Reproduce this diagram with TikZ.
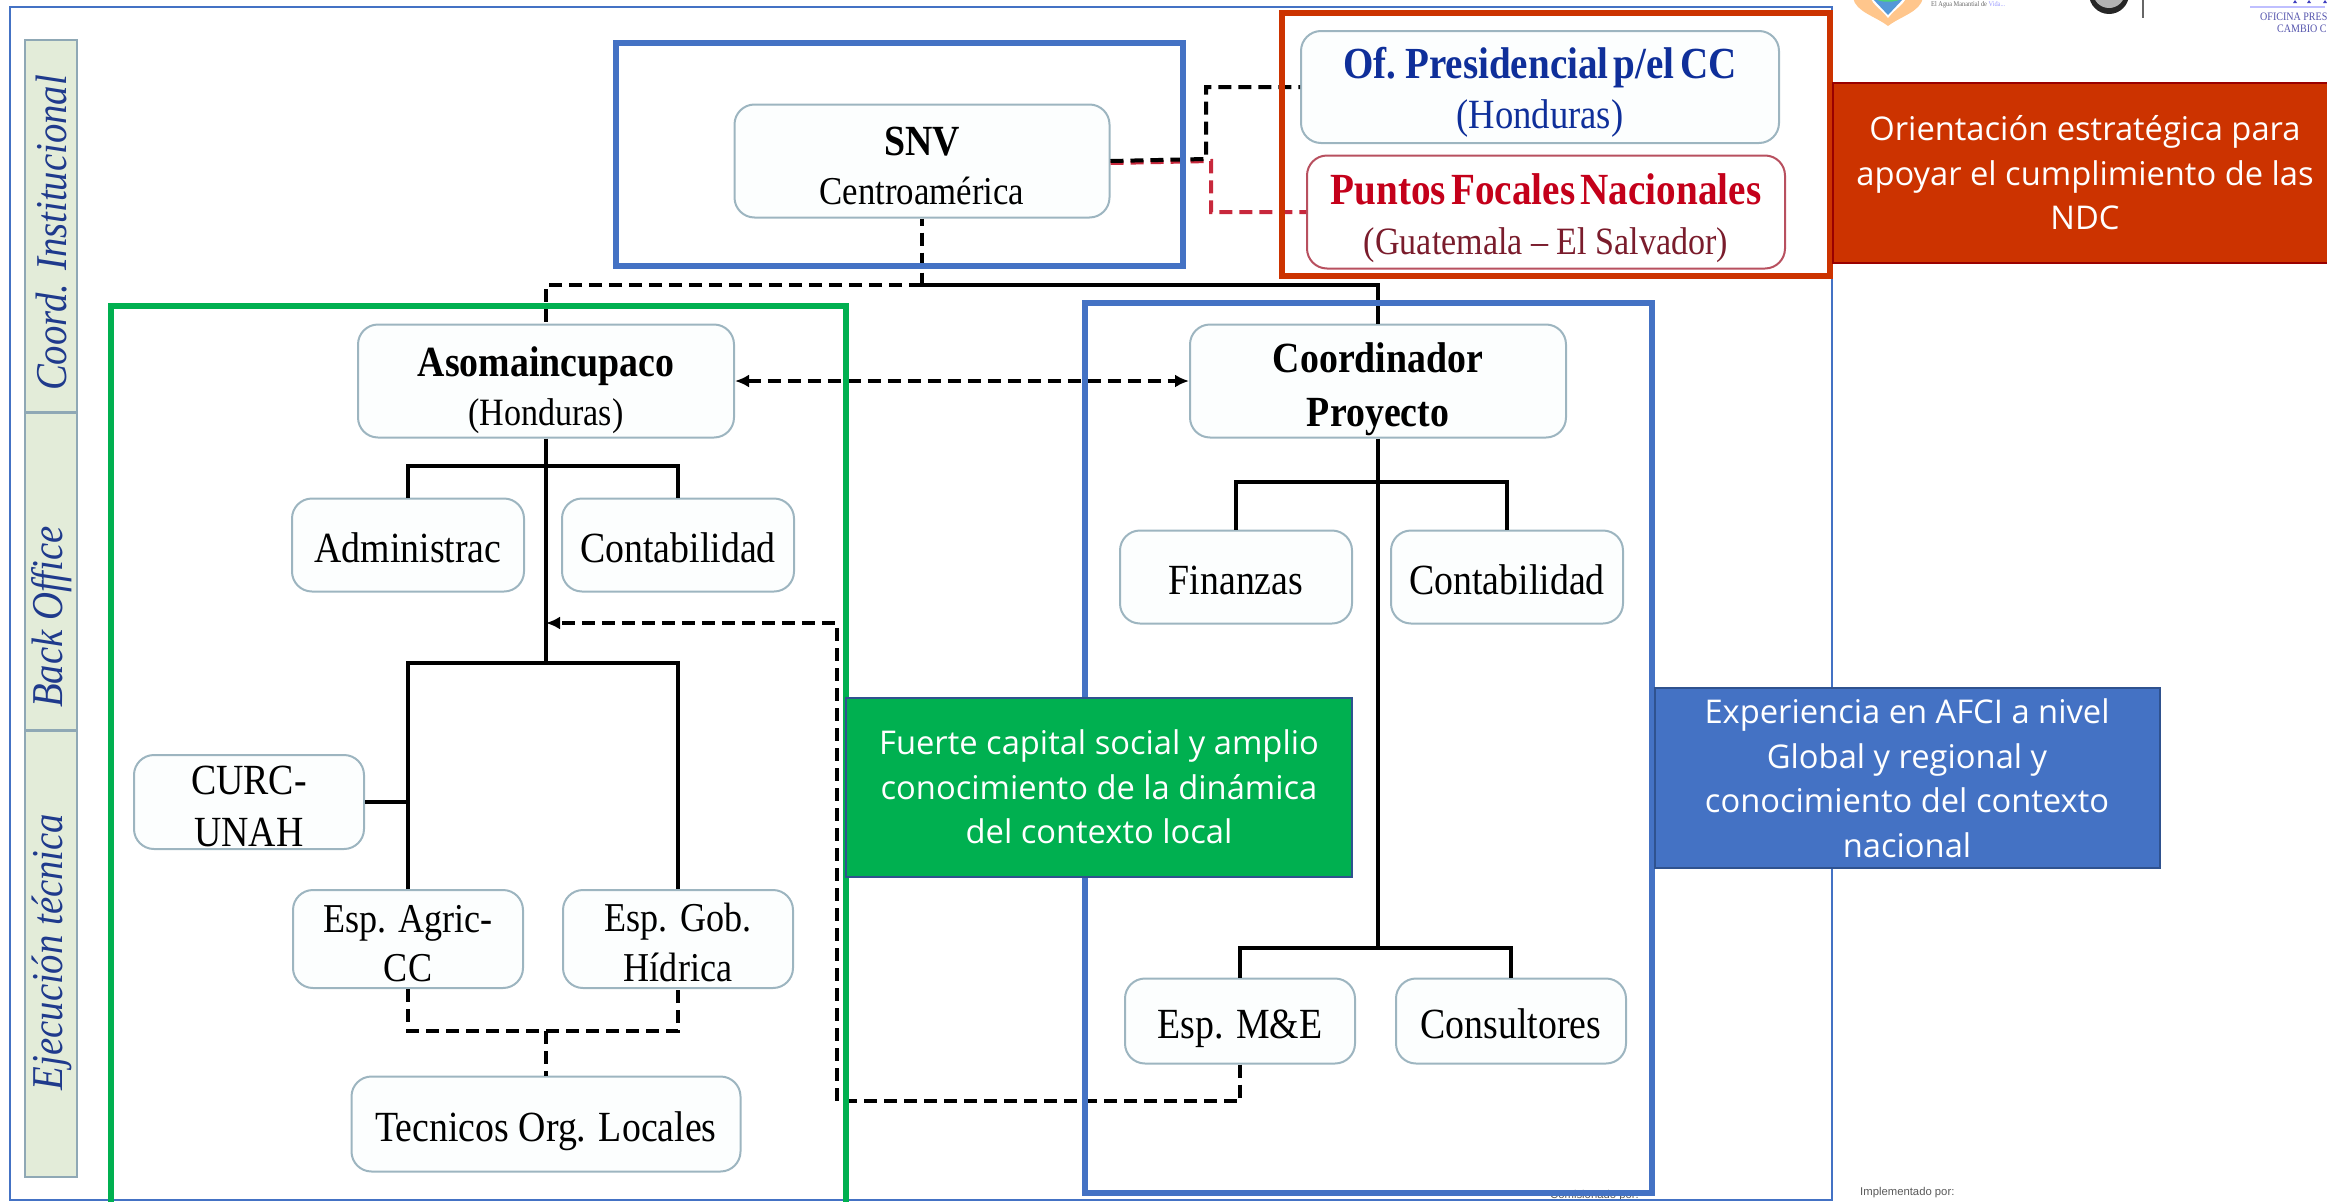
\documentclass[tikz,border=0pt]{standalone}
\usepackage{fontspec}
\setmainfont[FakeStretch=0.88]{Liberation Serif}
\newfontfamily\lblfont{Open Sans}
\newfontfamily\uifont{Liberation Sans}
\usetikzlibrary{arrows.meta}
\definecolor{frameblue}{HTML}{4472C4}
\definecolor{framegreen}{HTML}{00B050}
\definecolor{framered}{HTML}{CC3300}
\definecolor{lblborder}{HTML}{2F528F}
\definecolor{redborder}{HTML}{990000}
\definecolor{boxfill}{HTML}{FCFEFE}
\definecolor{boxline}{HTML}{9DB5C0}
\definecolor{sidefill}{HTML}{E3ECD9}
\definecolor{sideline}{HTML}{8FA8B5}
\definecolor{sidetext}{HTML}{1F3A8C}
\definecolor{presblue}{HTML}{0F2F9A}
\definecolor{pfred}{HTML}{C4001A}
\definecolor{pfdark}{HTML}{7A1C2C}
\definecolor{pfline}{HTML}{B8505F}
\definecolor{dashred}{HTML}{C8283C}
\newcommand{\fs}[1]{\fontsize{#1}{48}\selectfont}
\newcommand{\tightbold}[1]{\textbf{\spaceskip=.12em\relax #1}}
\newcommand{\lineat}[2]{\smash{\raisebox{-#1pt}{#2}}}
\tikzset{
  x=1pt,y=-1pt,
  textdown/.style={execute at begin node={\rule{0pt}{#1pt}}},
  orgbox/.style={draw=boxline,line width=2,fill=boxfill,rounded corners=20,align=center,inner sep=0,text=black,
    font=\fontsize{43}{49}\selectfont},
  singlebox/.style={orgbox,textdown=34},
  redbox/.style={orgbox,draw=pfline,fill=white},
  link/.style={draw=black,line width=4},
  dashlink/.style={link,dash pattern=on 13 off 7},
  reddash/.style={dashlink,draw=dashred},
  arrowtip/.style={-{Latex[length=14,width=13]}},
  frame/.style={line width=6,fill=none},
  sidecell/.style={draw=sideline,line width=2.5,fill=sidefill},
  sidelabel/.style={rotate=90,text=sidetext,font=\fontsize{44}{50}\selectfont\itshape,inner sep=0},
  infolabel/.style={line width=2,align=center,text=white,inner sep=0,font=\lblfont\fontsize{32.7}{44.5}\selectfont,
    execute at begin node={\rule{0pt}{32pt}}},
  logotext/.style={inner sep=0,anchor=west,text=gray!80!black},
  officetext/.style={inner sep=0,anchor=west,text=blue!35!gray,font=\fontsize{11.4}{14}\selectfont},
  smallnote/.style={inner sep=0,anchor=west,text=gray!70!black,font=\uifont\fontsize{11.3}{12}\selectfont}
}
\begin{document}
\begin{tikzpicture}
\clip (0,0) rectangle (2327,1202);
% logos cropped by the top edge
\fill[orange!45!white] (1853,-2) .. controls (1856,12) and (1875,16) .. (1888,26) .. controls (1901,16) and (1920,12) .. (1923,-2) -- cycle;
\fill[white] (1871,-2) .. controls (1872,4) and (1882,10) .. (1888,18) .. controls (1894,10) and (1904,4) .. (1906,-2) -- cycle;
\fill[cyan!60!blue!70!white] (1872,-2) -- (1904,-2) -- (1888,15) -- cycle;
\fill[green!50!teal!70!white] (1874,-2) -- (1902,-2) .. controls (1898,3) and (1878,3) .. (1874,-2) -- cycle;
\node[logotext,font=\fontsize{7.2}{8}\selectfont] (motto) at (1931,5) {\textsc{El Agua Manantial de} \textcolor{blue!40!white}{\textsc{Vida...}}};
\fill[black!85] (2109,-6) circle (20);
\fill[gray!60] (2109,-8) ellipse (16 and 16);
\draw[gray!80!black,line width=1.5] (2143,0) -- (2143,18);
\draw[blue!25!white,line width=1.2] (2250,7) -- (2325,7);
\fill[blue!50!gray] (2293,3) -- (2295,0) -- (2297,3) -- cycle (2307,3) -- (2309,0) -- (2311,3) -- cycle (2323,3) -- (2325,0) -- (2327,3) -- cycle;
\node[officetext] (office1) at (2260,17) {OFICINA PRES};
\node[officetext] (office2) at (2277,29) {CAMBIO C};
\node[smallnote] (impl) at (1860,1193) {Implementado por:};
\node[smallnote] (comis) at (1550,1196) {Comisionado por:};
% outer frame and side column
\draw[frameblue,line width=2] (10,7) rectangle (1832,1200);
\draw[sidecell] (25,40) rectangle (77,1177);
\draw[sideline,line width=3] (25,412) -- (77,412) (25,730) -- (77,730);
\node[sidelabel] (s1) at (52,233) {Coord. Institucional};
\node[sidelabel] (s2) at (52,617) {Back Office};
\node[sidelabel] (s3) at (52,952) {Ejecución técnica};
% nodes
\node[orgbox,minimum width=375,minimum height=113] (snv) at (922,161) {\lineat{19}{\textbf{SNV}}\\\lineat{19}{\fs{39.5}Centroamérica}};
\node[orgbox,minimum width=478,minimum height=112,text=presblue,font=\fontsize{44.4}{50}\selectfont] (pres) at (1540,87) {\lineat{16.5}{\tightbold{Of. Presidencial p/el CC}}\\\lineat{16.5}{\fs{41.6}(Honduras)}};
\node[redbox,minimum width=478,minimum height=113,text=pfred,font=\fontsize{44.5}{50}\selectfont] (pf) at (1546,212) {\lineat{17}{\tightbold{Puntos Focales Nacionales}}\\\lineat{17}{\fs{38.7}\color{pfdark}(Guatemala – El Salvador)}};
\node[orgbox,minimum width=376,minimum height=113] (aso) at (546,381) {\lineat{19.5}{\textbf{Asomaincupaco}}\\\lineat{19.5}{\fs{38.7}(Honduras)}};
\node[orgbox,minimum width=376,minimum height=113] (coord) at (1378,381) {\lineat{18}{\textbf{Coordinador}}\\[5pt]\lineat{18}{\textbf{Proyecto}}};
\node[singlebox,minimum width=232,minimum height=93] (adm) at (408,545) {\smash{Administrac}};
\node[singlebox,minimum width=232,minimum height=93] (conl) at (678,545) {\smash{Contabilidad}};
\node[singlebox,minimum width=232,minimum height=93] (fin) at (1236,577) {\smash{Finanzas}};
\node[singlebox,minimum width=232,minimum height=93] (conr) at (1507,577) {\smash{Contabilidad}};
\node[orgbox,minimum width=230,minimum height=94] (curc) at (249,802) {\lineat{18}{CURC-}\\[3pt]\lineat{18}{UNAH}};
\node[orgbox,minimum width=230,minimum height=98] (agric) at (408,939) {\lineat{18}{\fs{41}Esp. Agric-}\\\lineat{18}{\fs{41}CC}};
\node[orgbox,minimum width=230,minimum height=98] (gob) at (678,939) {\lineat{16.5}{\fs{41}Esp. Gob.}\\\lineat{18}{\fs{41}Hídrica}};
\node[singlebox,minimum width=230,minimum height=85] (me) at (1240,1021) {\smash{Esp. M\&E}};
\node[singlebox,minimum width=230,minimum height=85] (cons) at (1511,1021) {\smash{Consultores}};
\node[singlebox,minimum width=389,minimum height=95] (tec) at (546,1124) {\smash{Tecnicos Org. Locales}};
% junctions
\coordinate (jtop) at (922,285);
\coordinate (jsnv) at (1206,159);
\coordinate (jred) at (1211,161);
\coordinate (jaso) at (546,466);
\coordinate (jlow) at (546,663);
\coordinate (jcoa) at (1378,482);
\coordinate (jcob) at (1378,948);
\coordinate (jdash) at (546,1031);
\coordinate (jret) at (837,1101);
\coordinate (jin) at (546,623);
\draw[reddash] ([yshift=-2pt]snv.east) -- (jred) |- (pf.west);
\draw[dashlink] (snv.east) -- (jsnv) |- (pres.west);
\draw[dashlink,dash phase=6] (snv.south) -- (jtop);
\draw[link] (jtop) -| (coord.north);
\draw[dashlink] (jtop) -| (aso.north);
\draw[dashlink,{Latex[length=14,width=13]}-{Latex[length=14,width=13]}] (aso.east) -- (coord.west);
\draw[link] (aso.south) -- (jlow);
\draw[link] (adm.north) |- (jaso) -| (conl.north);
\draw[link] (agric.north) |- (jlow) -| (gob.north);
\draw[link] (curc.east) -- (curc.east -| agric.north);
\draw[dashlink] (agric.south) |- (jdash) -| (gob.south);
\draw[dashlink] (jdash) -- (tec.north);
\draw[dashlink,arrowtip] (me.south) |- (jret) |- (jin);
\draw[link] (coord.south) -- (jcob);
\draw[link] (fin.north) |- (jcoa) -| (conr.north);
\draw[link] (me.north) |- (jcob) -| (cons.north);
% coloured frames
\draw[frame,frameblue] (616,43) rectangle (1183,266);
\draw[frame,framered] (1282,13) rectangle (1830,276);
\draw[frame,framegreen] (111,306) rectangle (846,1240);
\draw[frame,frameblue] (1085,303) rectangle (1652,1193);
% labels
\node[infolabel,draw=redborder,fill=framered,minimum width=504,minimum height=180] (lred) at (2085,173) {Orientación estratégica para\\apoyar el cumplimiento de las\\NDC};
\node[infolabel,draw=lblborder,fill=framegreen,minimum width=506,minimum height=179] (lgreen) at (1099,787) {Fuerte capital social y amplio\\conocimiento de la dinámica\\del contexto local};
\node[infolabel,draw=lblborder,fill=frameblue,minimum width=505,minimum height=180] (lblue) at (1907,778) {Experiencia en AFCI a nivel\\Global y regional y\\conocimiento del contexto\\nacional};
\end{tikzpicture}
\end{document}
